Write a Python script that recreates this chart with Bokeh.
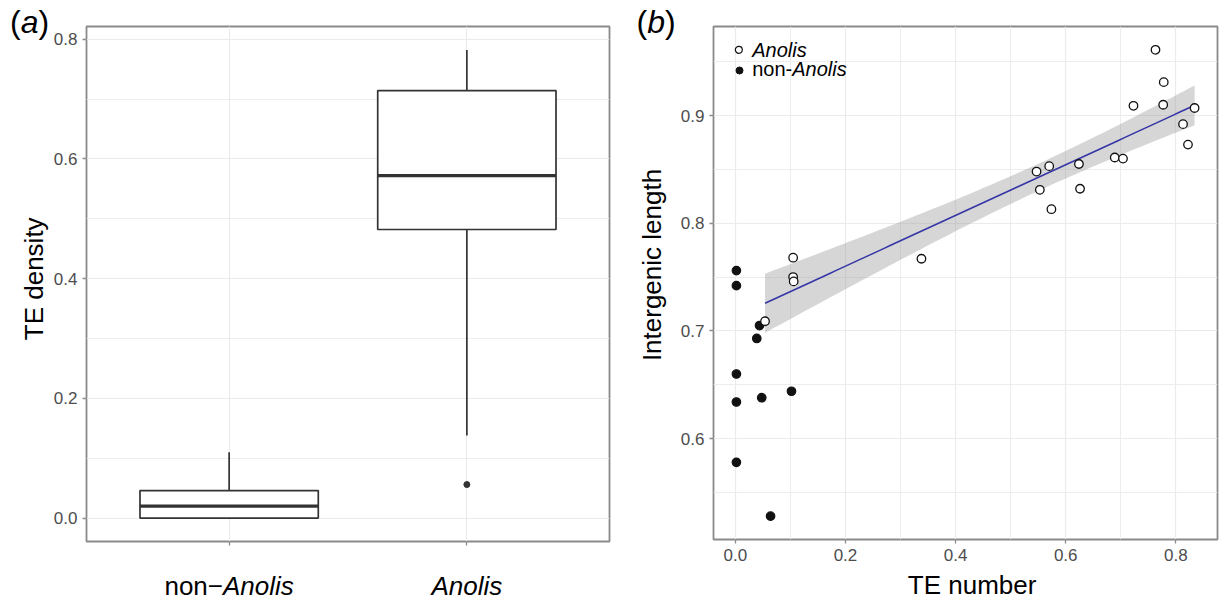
import numpy as np
from math import pi
from bokeh.plotting import figure
from bokeh.models import Range1d, FixedTicker, Label, PrintfTickFormatter
from bokeh.core.properties import value
from bokeh.layouts import row, column
from bokeh.embed import file_html
from bokeh.resources import INLINE

FONT = "Liberation Sans"

# ---------------- data: panel (a) TE density boxplot ----------------
category_prefix = ["non\u2212", ""]
category_genus = ["Anolis", "Anolis"]
categories = [a + b for a, b in zip(category_prefix, category_genus)]
box_q1 = [0.000, 0.482]
box_median = [0.020, 0.572]
box_q3 = [0.046, 0.714]
whisker_low = [0.000, 0.138]
whisker_high = [0.110, 0.782]
outlier_category = ["Anolis"]
outlier_value = [0.056]

# ---------------- data: panel (b) TE number vs intergenic length ----------------
anolis_te = [0.763, 0.778, 0.777, 0.723, 0.834, 0.813, 0.822, 0.689, 0.704, 0.547,
             0.570, 0.624, 0.553, 0.626, 0.574, 0.338, 0.105, 0.105, 0.106, 0.054]
anolis_len = [0.961, 0.931, 0.910, 0.909, 0.907, 0.892, 0.873, 0.861, 0.860, 0.848,
              0.853, 0.855, 0.831, 0.832, 0.813, 0.767, 0.768, 0.750, 0.746, 0.709]
non_anolis_te = [0.002, 0.002, 0.044, 0.039, 0.002, 0.002, 0.048, 0.102, 0.002, 0.064]
non_anolis_len = [0.756, 0.742, 0.705, 0.693, 0.660, 0.634, 0.638, 0.644, 0.578, 0.528]

# ---------------- layout constants (pixels) ----------------
H = 606
SA_W = 50                 # left strip of panel (a): letter + y title
PA_W, PA_H = 580, 570     # panel (a) plot
PA_L, PA_R, PA_T, PA_B = 35, 21, 26, 29
BOT_H = H - PA_H          # strip under panel plots for x titles
SB_W = 46                 # left strip of panel (b)
PB_W, PB_H = 543, 570
PB_L, PB_R, PB_T, PB_B = 37, 2, 26, 31
PB_BOT = H - PB_H
FRAME_BW = PB_W - PB_L - PB_R
FRAME_BH = PB_H - PB_T - PB_B
BASE_FIX = 0.37           # empirical baseline correction (fraction of font size)

GRID = "#ebebeb"
BORDER = "#8a8a8a"
TICKC = "#4d4d4d"


def expand(lo, hi, f=0.05):
    d = (hi - lo) * f
    return lo - d, hi + d


def style(p):
    p.outline_line_color = BORDER
    p.outline_line_width = 1.8
    for ax in p.axis:
        ax.axis_line_color = None
        ax.major_tick_line_color = BORDER
        ax.major_tick_line_width = 1.3
        ax.major_tick_out = 4
        ax.major_tick_in = 0
        ax.minor_tick_line_color = None
        ax.major_label_text_font = FONT
        ax.major_label_text_font_size = "17px"
        ax.major_label_text_color = TICKC
        ax.major_label_standoff = 5
    for g in p.grid:
        g.grid_line_color = GRID
        g.grid_line_width = 1.2
        g.minor_grid_line_color = GRID
        g.minor_grid_line_width = 0.9


def strip(w, h, x_range=None, left=0, right=0):
    s = figure(width=w, height=h, x_range=x_range if x_range is not None else Range1d(0, w),
               y_range=Range1d(0, h), output_backend="svg", toolbar_location=None,
               title=None, x_axis_location=None, y_axis_location=None,
               min_border_left=left, min_border_right=right, min_border_top=0,
               min_border_bottom=0)
    s.grid.visible = False
    s.outline_line_color = None
    return s


def txt(fig, x, y, s, size=26, fstyle="normal", align="left", angle=0.0, xo=0.0):
    yo = 0.0
    if angle == 0.0:
        yo = BASE_FIX * size
    else:
        xo = xo - BASE_FIX * size
    fig.text(x=[x], y=[y], text=[s], text_font=value(FONT),
             text_font_size=value(f"{size}px"), text_font_style=fstyle,
             text_align=align, text_baseline="alphabetic", angle=angle,
             x_offset=xo, y_offset=-yo, text_color="black")


# ================= panel (a) =================
xpos = list(range(1, len(categories) + 1))
ya0, ya1 = expand(min(whisker_low + outlier_value), max(whisker_high + outlier_value))
xa_range = Range1d(0.4, len(categories) + 0.6)
pa = figure(width=PA_W, height=PA_H, x_range=xa_range, y_range=Range1d(ya0, ya1),
            output_backend="svg", toolbar_location=None, title=None,
            min_border_left=PA_L, min_border_right=PA_R, min_border_top=PA_T,
            min_border_bottom=PA_B)
tx = FixedTicker(ticks=xpos)
ty = FixedTicker(ticks=[0.0, 0.2, 0.4, 0.6, 0.8], minor_ticks=[0.1, 0.3, 0.5, 0.7])
pa.xaxis.ticker = tx
pa.xgrid.ticker = tx
pa.yaxis.ticker = ty
pa.ygrid.ticker = ty
pa.yaxis.formatter = PrintfTickFormatter(format="%.1f")
style(pa)
pa.xaxis.major_label_overrides = {x: "" for x in xpos}

BOXC = "#333333"
BW = 0.75
pa.segment(x0=xpos, y0=box_q3, x1=xpos, y1=whisker_high, line_color=BOXC, line_width=1.7)
pa.segment(x0=xpos, y0=box_q1, x1=xpos, y1=whisker_low, line_color=BOXC, line_width=1.7)
pa.vbar(x=xpos, width=BW, top=box_q3, bottom=box_q1, fill_color="white",
        line_color=BOXC, line_width=1.7)
pa.segment(x0=[x - BW / 2 for x in xpos], y0=box_median, x1=[x + BW / 2 for x in xpos],
           y1=box_median, line_color=BOXC, line_width=3.3)
pa.scatter(x=[xpos[categories.index(c)] for c in outlier_category], y=outlier_value,
           size=6, fill_color=BOXC, line_color=BOXC)

# strip left of (a): panel letter and y title
sa = strip(SA_W, H)
txt(sa, 9.6, H - 33, "(", size=32)
txt(sa, 9.6 + 10.7, H - 33, "a", size=32, fstyle="italic")
txt(sa, 9.6 + 28.5, H - 33, ")", size=32)
txt(sa, 43.6, H - 278.3, "TE density", align="center", angle=pi / 2)

# strip under (a): category labels (mixed upright / italic)
pa_bot = strip(PA_W, BOT_H, x_range=xa_range, left=PA_L, right=PA_R)
CAT_BASE = BOT_H - (595 - PA_H)
for x, pre, gen in zip(xpos, category_prefix, category_genus):
    if pre:
        w1 = 26 * 2.252
        w2 = 26 * 2.723
        join = -(w1 + w2) / 2 + w1
        txt(pa_bot, x, CAT_BASE, pre, align="right", xo=join)
        txt(pa_bot, x, CAT_BASE, gen, align="left", fstyle="italic", xo=join)
    else:
        txt(pa_bot, x, CAT_BASE, gen, align="center", fstyle="italic")

# ================= panel (b) =================
all_x = anolis_te + non_anolis_te
all_y = anolis_len + non_anolis_len
xb0, xb1 = expand(min(all_x), max(all_x))
yb0, yb1 = expand(min(all_y), max(all_y))
xb_range = Range1d(xb0, xb1)
pb = figure(width=PB_W, height=PB_H, x_range=xb_range, y_range=Range1d(yb0, yb1),
            output_backend="svg", toolbar_location=None, title=None,
            min_border_left=PB_L, min_border_right=PB_R, min_border_top=PB_T,
            min_border_bottom=PB_B)
tbx = FixedTicker(ticks=[0.0, 0.2, 0.4, 0.6, 0.8], minor_ticks=[0.1, 0.3, 0.5, 0.7])
tby = FixedTicker(ticks=[0.6, 0.7, 0.8, 0.9], minor_ticks=[0.55, 0.65, 0.75, 0.85, 0.95])
pb.xaxis.ticker = tbx
pb.xgrid.ticker = tbx
pb.yaxis.ticker = tby
pb.ygrid.ticker = tby
pb.xaxis.formatter = PrintfTickFormatter(format="%.1f")
pb.yaxis.formatter = PrintfTickFormatter(format="%.1f")
style(pb)

# linear fit with 95% confidence band on Anolis points (as geom_smooth(method="lm"))
ax_ = np.array(anolis_te)
ay_ = np.array(anolis_len)
n = len(ax_)
slope, intercept = np.polyfit(ax_, ay_, 1)
xf = np.linspace(ax_.min(), ax_.max(), 80)
yf = intercept + slope * xf
resid = ay_ - (intercept + slope * ax_)
s = np.sqrt((resid ** 2).sum() / (n - 2))
sxx = ((ax_ - ax_.mean()) ** 2).sum()
se = s * np.sqrt(1.0 / n + (xf - ax_.mean()) ** 2 / sxx)
tq = 2.100922  # t quantile 0.975, df = 18
pb.varea(x=xf, y1=yf - tq * se, y2=yf + tq * se, fill_color="#999999", fill_alpha=0.4)
pb.line(x=xf, y=yf, line_color="#3636a6", line_width=1.6)

pb.scatter(x=non_anolis_te, y=non_anolis_len, size=8.5, fill_color="#111111",
           line_color="#111111", line_width=1.2)
pb.scatter(x=anolis_te, y=anolis_len, size=8.5, fill_color="white",
           line_color="#111111", line_width=1.3)


# legend (top-left inside panel)
def px_b(dx, dy):
    return (xb0 + dx * (xb1 - xb0) / FRAME_BW, yb1 - dy * (yb1 - yb0) / FRAME_BH)


lx1, ly1 = px_b(25.3, 23.3)
lx2, ly2 = px_b(26.0, 44.0)
pb.scatter(x=[lx1], y=[ly1], size=7, fill_color="white", line_color="#111111", line_width=1.2)
pb.scatter(x=[lx2], y=[ly2], size=7, fill_color="#111111", line_color="#111111")


def lab(p, text, x, y, xo, yo, size, fstyle):
    p.add_layout(Label(x=x, y=y, x_offset=xo, y_offset=yo + BASE_FIX * size, text=text,
                       text_font=FONT, text_font_size=f"{size}px", text_font_style=fstyle,
                       text_align="left", text_baseline="alphabetic", text_color="black"))


lab(pb, "Anolis", xb0, yb1, 38.7, -30.7, 20, "italic")
lab(pb, "non-", xb0, yb1, 38.7, -49.7, 20, "normal")
lab(pb, "Anolis", xb0, yb1, 38.7 + 40.0, -49.7, 20, "italic")

# strip left of (b): panel letter and y title
sb = strip(SB_W, H)
txt(sb, 6.0, H - 33.3, "(", size=32)
txt(sb, 6.0 + 10.7, H - 33.3, "b", size=32, fstyle="italic")
txt(sb, 6.0 + 28.5, H - 33.3, ")", size=32)
txt(sb, 661.3 - 630, H - 264.5, "Intergenic length", align="center", angle=pi / 2)

# strip under (b): x title
pb_bot = strip(PB_W, PB_BOT, x_range=xb_range, left=PB_L, right=PB_R)
txt(pb_bot, 0.43, PB_BOT - (594 - PB_H), "TE number", align="center")

layout = row(sa, column(pa, pa_bot), sb, column(pb, pb_bot))
open("out.html", "w").write(file_html(layout, INLINE))
